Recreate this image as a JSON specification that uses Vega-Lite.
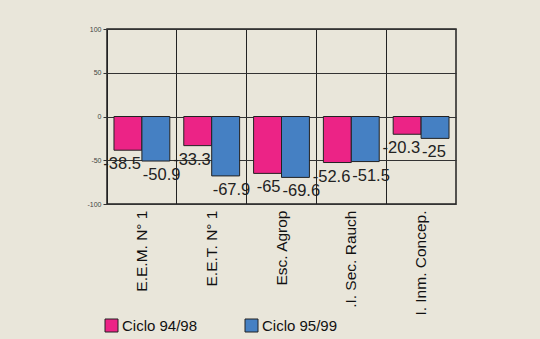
{
  "$schema": "https://vega.github.io/schema/vega-lite/v6.json",
  "width": 349,
  "height": 175,
  "autosize": {"type": "none"},
  "padding": {"left": 107, "top": 29, "right": 84, "bottom": 135},
  "background": "#E9E6DA",
  "data": {
    "values": [
      {"escuela": "E.E.M. N° 1", "ciclo": "Ciclo 94/98", "valor": -38.5},
      {"escuela": "E.E.M. N° 1", "ciclo": "Ciclo 95/99", "valor": -50.9},
      {"escuela": "E.E.T. N° 1", "ciclo": "Ciclo 94/98", "valor": -33.3},
      {"escuela": "E.E.T. N° 1", "ciclo": "Ciclo 95/99", "valor": -67.9},
      {"escuela": "Esc. Agrop", "ciclo": "Ciclo 94/98", "valor": -65},
      {"escuela": "Esc. Agrop", "ciclo": "Ciclo 95/99", "valor": -69.6},
      {"escuela": ".I. Sec. Rauch", "ciclo": "Ciclo 94/98", "valor": -52.6},
      {"escuela": ".I. Sec. Rauch", "ciclo": "Ciclo 95/99", "valor": -51.5},
      {"escuela": "I. Inm. Concep.", "ciclo": "Ciclo 94/98", "valor": -20.3},
      {"escuela": "I. Inm. Concep.", "ciclo": "Ciclo 95/99", "valor": -25}
    ]
  },
  "encoding": {
    "x": {
      "field": "escuela", "type": "nominal", "sort": null,
      "scale": {"paddingInner": 0, "paddingOuter": 0},
      "axis": {
        "title": null, "labelAngle": -90, "labelFontSize": 15.5, "labelFont": "Liberation Sans",
        "labelColor": "#111", "ticks": false, "domain": false, "grid": true, "gridColor": "#222",
        "gridOpacity": 1, "bandPosition": 0, "labelPadding": 6, "labelLimit": 200
      }
    },
    "xOffset": {"field": "ciclo", "type": "nominal", "scale": {"paddingInner": 0, "paddingOuter": 0.25}}
  },
  "layer": [
    {
      "mark": {"type": "bar", "stroke": "#222", "strokeWidth": 1},
      "encoding": {
        "y": {
          "field": "valor", "type": "quantitative",
          "scale": {"domain": [-100, 100], "nice": false},
          "axis": {
            "title": null, "values": [-100, -50, 0, 50, 100], "grid": true, "gridColor": "#333",
            "gridOpacity": 1, "domain": false, "tickColor": "#333", "tickSize": 4,
            "labelFontSize": 7, "labelColor": "#444", "labelFont": "Liberation Sans", "labelPadding": 2,
            "labelExpr": "'' + datum.value"
          }
        },
        "color": {
          "field": "ciclo", "type": "nominal",
          "scale": {"domain": ["Ciclo 94/98", "Ciclo 95/99"], "range": ["#EC2386", "#4580C3"]},
          "legend": {
            "orient": "none", "legendX": -3, "legendY": 289, "direction": "horizontal", "title": null,
            "symbolType": "square", "symbolSize": 169, "symbolStrokeColor": "#222", "symbolStrokeWidth": 1,
            "labelFontSize": 15, "labelFont": "Liberation Sans", "labelColor": "#111",
            "columnPadding": 45, "labelOffset": 3
          }
        }
      }
    },
    {
      "transform": [{"filter": "datum.ciclo == 'Ciclo 94/98'"}],
      "mark": {"type": "text", "baseline": "alphabetic", "align": "right", "dx": 13, "dy": 19, "fontSize": 16.5, "font": "Liberation Sans", "color": "#222"},
      "encoding": {
        "y": {"field": "valor", "type": "quantitative"},
        "text": {"field": "valor", "type": "nominal"}
      }
    },
    {
      "transform": [{"filter": "datum.ciclo == 'Ciclo 95/99'"}],
      "mark": {"type": "text", "baseline": "alphabetic", "align": "left", "dx": -13, "dy": 19, "fontSize": 16.5, "font": "Liberation Sans", "color": "#222"},
      "encoding": {
        "y": {"field": "valor", "type": "quantitative"},
        "text": {"field": "valor", "type": "nominal"}
      }
    }
  ],
  "config": {"view": {"stroke": "#222", "strokeWidth": 1.5}}
}
